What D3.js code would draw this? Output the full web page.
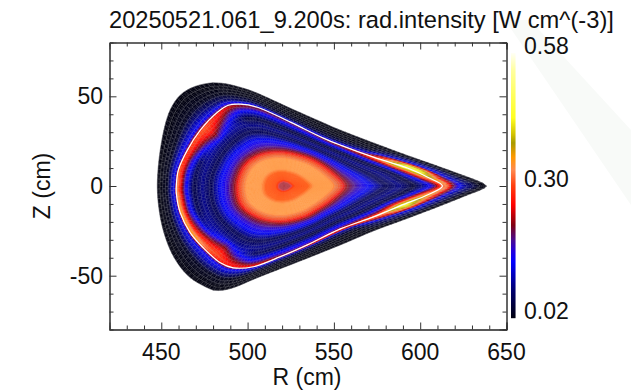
<!DOCTYPE html>
<html>
<head>
<meta charset="utf-8">
<script src="https://cdn.jsdelivr.net/npm/d3@7"></script>
<style>
html, body { margin: 0; padding: 0; background: #fff; }
svg { display: block; }
text { font-family: "Liberation Sans", Arial, sans-serif; fill: #111; }
</style>
</head>
<body>
<svg width="631" height="390"></svg>
<script>
// contours, [R, Z] in cm, going tip -> top -> left -> bottom
const axisPoint = [521.3, 0]
const coreContour = [[558,0],[551,7.8],[542,14],[533.5,17.6],[520.7,20.3],[508.6,19.4],[499.7,15.2],[494.5,8.9],[492,0],[493.5,-9.4],[499,-15.6],[508.6,-20],[520.7,-21.1],[533.5,-18.3],[542,-13.9],[551,-7.8]]
const separatrix = [[612.9,0],[604.1,5],[592.6,10],[572.9,16.1],[553.8,22.8],[543.9,26.7],[524.8,35.6],[505.7,43.9],[495.8,45.6],[488.8,45],[482.5,41.1],[472.6,31.1],[465.1,20],[459.9,8.9],[458.7,0],[458.7,-3.9],[461,-15],[466.8,-26.1],[474.3,-34.4],[484.2,-42.8],[491.7,-45.6],[503.3,-45],[519,-39.4],[534.6,-32.8],[553.8,-23.9],[572.9,-17.2],[592.6,-9.4],[604.1,-5]]
const outerContour = [[638.4,0],[634.9,2.2],[627.4,5],[611.7,10.5],[592.6,17],[572.9,24],[553.8,31.1],[543.9,35.2],[524.8,43.3],[505.7,51.7],[495.8,55],[485.9,57.2],[476.7,57.2],[466.8,54.4],[459.3,48.9],[453.5,38.3],[449.4,20],[447.7,0],[449.4,-17.2],[453.5,-31.7],[459.3,-42.8],[466.8,-51.1],[476.7,-56.7],[482.5,-58.3],[491.7,-56.7],[505.7,-51.1],[524.8,-43.9],[553.8,-32.8],[572.9,-25],[592.6,-18],[611.7,-11],[627.4,-5],[634.9,-2.2]]

// intensity read along the surfaces: 0 axis, .4 core contour, .8 separatrix, 1 outer contour
const coreLevels = [0, .04, .07, .15, .19, .30, .36, .40, .45, .50, .56, .62]
const coreProfile = [.225, .225, .285, .295, .335, .335, .285, .215, .165, .13, .06, .09]
const edgeLevels = [.68, .74, .77, .79, .80, .82, .85, .90, .97]
const stationAngles = [0, 3, 6, 9, 14, 22, 35, 60, 100, 120, 145, 165, 180, 195, 210, 225, 245, 270, 300, 330, 345, 351, 356]
const edgeProfiles = [
  [.045, .12, .19, .27, .31, .33, .20, .10, .025],
  [.045, .14, .26, .33, .36, .38, .28, .12, .025],
  [.05, .20, .33, .42, .45, .46, .42, .15, .03],
  [.05, .20, .36, .45, .50, .46, .44, .15, .03],
  [.045, .17, .27, .33, .36, .33, .30, .12, .025],
  [.045, .15, .21, .25, .27, .18, .10, .03, .02],
  [.045, .13, .19, .22, .23, .14, .06, .025, .02],
  [.045, .12, .17, .20, .21, .13, .05, .025, .02],
  [.045, .12, .17, .20, .21, .13, .05, .025, .02],
  [.05, .13, .19, .22, .19, .13, .06, .025, .02],
  [.20, .28, .30, .31, .26, .14, .10, .03, .02],
  [.07, .18, .26, .29, .26, .14, .11, .03, .02],
  [.05, .16, .26, .33, .32, .13, .11, .03, .02],
  [.06, .18, .28, .36, .33, .13, .11, .03, .02],
  [.12, .24, .31, .36, .30, .13, .11, .03, .02],
  [.20, .28, .30, .28, .25, .14, .11, .03, .02],
  [.07, .15, .21, .26, .25, .14, .09, .025, .02],
  [.045, .13, .17, .20, .27, .20, .07, .025, .02],
  [.045, .12, .15, .18, .28, .26, .08, .025, .02],
  [.045, .13, .17, .21, .28, .26, .08, .025, .02],
  [.045, .16, .22, .30, .35, .33, .26, .10, .025],
  [.05, .20, .33, .42, .47, .46, .42, .15, .03],
  [.045, .18, .30, .36, .36, .36, .28, .12, .025]
]

const colorValues = [.02, .079, .138, .16, .185, .2165, .259, .30, .333, .36, .39, .407, .443, .544, .58]
const colorStops = ["#00000f", "#000070", "#0000ff", "#2000e0", "#4a0a90", "#800010", "#ff0000", "#ff4010", "#ff8a50", "#ff9900", "#a89a00", "#d0c000", "#ffff20", "#ffffa0", "#fffff5"]
const barLabels = ["0.02", "0.30", "0.58"]
const barValues = [.02, .30, .58]

const xTicks = [450, 500, 550, 600, 650]
const xMinor = [430, 440, 460, 470, 480, 490, 510, 520, 530, 540, 560, 570, 580, 590, 610, 620, 630, 640]
const yTicks = [-50, 0, 50]
const yMinor = [-70, -60, -40, -30, -20, -10, 10, 20, 30, 40, 60, 70]

const svg = d3.select("svg")

const x = d3.scaleLinear().domain([420, 650]).range([109.5, 506.5])
const y = d3.scaleLinear().domain([-80, 80]).range([329.5, 42.5])
const color = d3.scaleLinear().domain(colorValues).range(colorStops).interpolate(d3.interpolateRgb)
const barY = d3.scaleLinear().domain([.02, .58]).range([318, 53])

// faint diagonal band in the background
svg.append("polygon")
  .attr("points", "505,20 530,20 631,130 631,205")
  .attr("fill", "#f8faf8")

svg.append("rect")
  .attr("x", 109.5).attr("y", 42.5)
  .attr("width", 397).attr("height", 287)
  .attr("fill", "#fff")

// closed catmull-rom through the read points, so r(angle) has no corners
function smoothContour(points) {
  let n = points.length
  let out = []
  for (let i = 0; i < n; i++) {
    let p0 = points[(i - 1 + n) % n], p1 = points[i], p2 = points[(i + 1) % n], p3 = points[(i + 2) % n]
    for (let k = 0; k < 8; k++) {
      let t = k / 8
      out.push([0, 1].map(c => .5 * (2 * p1[c] + (p2[c] - p0[c]) * t + (2 * p0[c] - 5 * p1[c] + 4 * p2[c] - p3[c]) * t * t + (3 * p1[c] - p0[c] - 3 * p2[c] + p3[c]) * t * t * t)))
    }
  }
  return out
}

function toPolar(points) {
  let out = smoothContour(points).map(p => {
    let a = Math.atan2(p[1] - axisPoint[1], p[0] - axisPoint[0]) * 180 / Math.PI
    if (a < 0) a += 360
    return { a: a, r: Math.hypot(p[0] - axisPoint[0], p[1] - axisPoint[1]) }
  })
  out = out.filter((d, i) => i === 0 || d.a > out[i - 1].a)
  out.push({ a: 360, r: out[0].r })
  return out
}

const corePolar = toPolar(coreContour)
const sepPolar = toPolar(separatrix)
const outerPolar = toPolar(outerContour)

function radiusAt(polar, angle) {
  let i = d3.bisector(d => d.a).right(polar, angle)
  if (i >= polar.length) i = polar.length - 1
  let p0 = polar[i - 1], p1 = polar[i]
  return p0.r + (p1.r - p0.r) * (angle - p0.a) / (p1.a - p0.a)
}

function point(s, angle) {
  let a = ((angle % 360) + 360) % 360
  let r
  if (s <= .4) r = radiusAt(corePolar, a) * s / .4
  else if (s <= .8) {
    let t = (s - .4) / .4
    r = radiusAt(corePolar, a) * (1 - t) + radiusAt(sepPolar, a) * t
  } else {
    let t = (s - .8) / .2
    r = radiusAt(sepPolar, a) * (1 - t) + radiusAt(outerPolar, a) * t
  }
  let rad = a * Math.PI / 180
  return [x(axisPoint[0] + r * Math.cos(rad)), y(axisPoint[1] + r * Math.sin(rad))]
}

// angles spaced evenly along the outer contour, so cells keep the same width
const arcTable = [{ a: 0, len: 0 }]
for (let a = .25; a <= 360; a += .25) {
  let p0 = point(1, a - .25), p1 = point(1, a)
  arcTable.push({ a: a, len: arcTable[arcTable.length - 1].len + Math.hypot(p1[0] - p0[0], p1[1] - p0[1]) })
}
const arcTotal = arcTable[arcTable.length - 1].len
function angleAt(u) {
  let len = ((u % 1) + 1) % 1 * arcTotal
  let i = d3.bisector(d => d.len).left(arcTable, len)
  return arcTable[Math.max(i, 0)].a
}

const levels = coreLevels.concat(edgeLevels).concat([1])
function valueAt(s, angle) {
  let a = ((angle % 360) + 360) % 360
  let i = d3.bisectRight(stationAngles, a) - 1
  let j = (i + 1) % stationAngles.length
  let a0 = stationAngles[i]
  let a1 = j === 0 ? 360 : stationAngles[j]
  let t = (a - a0) / (a1 - a0)
  let k = Math.min(d3.bisectRight(levels, s) - 1, levels.length - 2)
  let f = (s - levels[k]) / (levels[k + 1] - levels[k])
  let column = n => {
    let row = coreProfile.concat(edgeProfiles[n]).concat([.02])
    return row[k] * (1 - f) + row[k + 1] * f
  }
  return column(i) * (1 - t) + column(j) * t
}

// the dense mesh of the core reads lighter than the colour bar
function cellColor(d) {
  let s = (d.s0 + d.s1) / 2
  let c = color(valueAt(s, (d.a0 + d.a1) / 2))
  if (s < .06) return d3.interpolateRgb(c, "#fff")(.3)
  let t = s < .3 ? .3 : s < .38 ? .3 * (.38 - s) / .08 : 0
  return d3.interpolateRgb(c, "#ffc850")(t)
}

// filled cells
const fillRows = d3.range(0, 36).map(i => i / 36 * .4)
  .concat(d3.range(0, 30).map(i => .4 + i / 30 * .3))
  .concat(d3.range(0, 30).map(i => .7 + i / 30 * .2))
  .concat(d3.range(0, 11).map(i => .9 + i / 10 * .1))
const fillCols = 190
const cells = []
for (let j = 0; j < fillRows.length - 1; j++) {
  for (let c = 0; c < fillCols; c++) {
    cells.push({ s0: fillRows[j], s1: fillRows[j + 1], a0: angleAt(c / fillCols), a1: c === fillCols - 1 ? 360 : angleAt((c + 1) / fillCols) })
  }
}

svg.append("g")
  .selectAll("path")
  .data(cells)
  .join("path")
  .attr("d", d => {
    let pts = [point(d.s0, d.a0), point(d.s0, d.a1), point(d.s1, d.a1), point(d.s1, d.a0)]
    return "M" + pts.join("L") + "Z"
  })
  .attr("fill", cellColor)
  .attr("stroke", cellColor)
  .attr("stroke-width", .4)

// grid of the mesh, staggered from one ring to the next
const meshCols = 170
function meshPath(rows) {
  let out = ""
  rows.forEach((s, j) => {
    let ring = d3.range(0, 361).map(i => point(s, i))
    out += "M" + ring.join("L")
    if (j < rows.length - 1) {
      for (let c = 0; c < meshCols; c++) {
        let a = angleAt((c + (j % 2) * .5) / meshCols)
        out += "M" + point(s, a) + "L" + point(rows[j + 1], a)
      }
    }
  })
  return out
}

const innerRows = d3.range(0, 5).map(i => .32 + i / 5 * .08)
  .concat(d3.range(0, 15).map(i => .4 + i / 14 * .4))
const outerRows = d3.range(0, 8).map(i => .8 + i / 7 * .2)

svg.append("path")
  .attr("d", meshPath(innerRows))
  .attr("fill", "none")
  .attr("stroke", "#bbb")
  .attr("stroke-width", .5)
  .attr("stroke-opacity", .3)

svg.append("path")
  .attr("d", meshPath(outerRows))
  .attr("fill", "none")
  .attr("stroke", "#bbb")
  .attr("stroke-width", .5)
  .attr("stroke-opacity", .45)

// white line along the separatrix
svg.append("path")
  .datum(separatrix)
  .attr("d", d3.line().x(d => x(d[0])).y(d => y(d[1])).curve(d3.curveCatmullRomClosed.alpha(.5)))
  .attr("fill", "none")
  .attr("stroke", "#fff")
  .attr("stroke-width", 1.2)

// axes
function drawAxis(axis, ticks, size, transform) {
  let g = svg.append("g")
    .attr("transform", transform)
    .call(axis.tickValues(ticks).tickSize(size).tickFormat(""))
  g.selectAll(".domain").attr("stroke", "#333")
  g.selectAll(".tick line").attr("stroke", "#333")
  return g
}

const major = 7
const minor = 4
drawAxis(d3.axisBottom(x), xTicks, -major, "translate(0,329.5)").selectAll(".domain").attr("stroke-width", 1.3).attr("stroke", "#555")
drawAxis(d3.axisBottom(x), xMinor, -minor, "translate(0,329.5)")
drawAxis(d3.axisTop(x), xTicks, -major, "translate(0,42.5)")
drawAxis(d3.axisTop(x), xMinor, -minor, "translate(0,42.5)")
drawAxis(d3.axisLeft(y), yTicks, -major, "translate(109.5,0)").selectAll(".domain").attr("stroke-width", 1.3).attr("stroke", "#555")
drawAxis(d3.axisLeft(y), yMinor, -minor, "translate(109.5,0)")
drawAxis(d3.axisRight(y), yTicks, -major, "translate(506.5,0)")
drawAxis(d3.axisRight(y), yMinor, -minor, "translate(506.5,0)")

svg.append("g").selectAll("text")
  .data(xTicks)
  .join("text")
  .attr("x", d => x(d))
  .attr("y", 360)
  .attr("text-anchor", "middle")
  .attr("font-size", 23)
  .text(d => d)

svg.append("g").selectAll("text")
  .data(yTicks)
  .join("text")
  .attr("x", 103)
  .attr("y", d => y(d) + 8)
  .attr("text-anchor", "end")
  .attr("font-size", 23)
  .text(d => d)

svg.append("text")
  .attr("x", 307)
  .attr("y", 385)
  .attr("text-anchor", "middle")
  .attr("font-size", 23)
  .text("R (cm)")

svg.append("text")
  .attr("transform", "translate(50,186) rotate(-90)")
  .attr("text-anchor", "middle")
  .attr("font-size", 23)
  .text("Z (cm)")

svg.append("text")
  .attr("x", 109)
  .attr("y", 28)
  .attr("font-size", 23.7)
  .text("20250521.061_9.200s: rad.intensity [W cm^(-3)]")

// colour bar
svg.append("g").selectAll("rect")
  .data(d3.range(0, 265))
  .join("rect")
  .attr("x", 511)
  .attr("y", d => 53 + d)
  .attr("width", 4.5)
  .attr("height", 1.2)
  .attr("fill", d => color(barY.invert(53 + d + .5)))

svg.append("g").selectAll("text")
  .data(barValues)
  .join("text")
  .attr("x", 524)
  .attr("y", d => barY(d) + 1)
  .attr("font-size", 23)
  .text((d, i) => barLabels[i])
</script>
</body>
</html>
